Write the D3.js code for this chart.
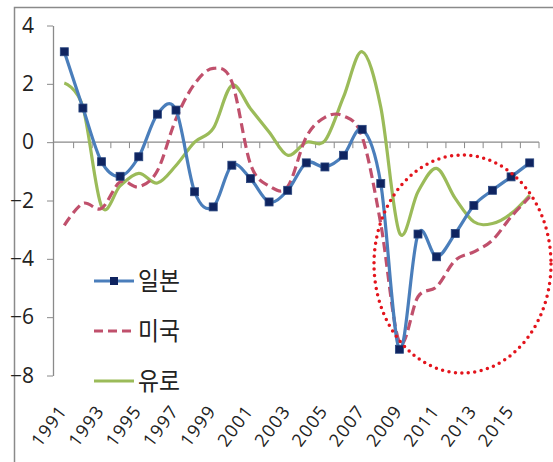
<!DOCTYPE html>
<html>
<head>
<meta charset="utf-8">
<script src="https://cdn.jsdelivr.net/npm/d3@7"></script>
<style>
  body { margin: 0; background: #fff; }
  svg { display: block; }
  .tick-label { font-family: "Open Sans", "Noto Sans", sans-serif; fill: #222; }
  .legend-label { font-family: "Noto Sans CJK KR", sans-serif; fill: #222; }
</style>
</head>
<body>
<svg width="553" height="462"></svg>
<script>
const years = [1991, 1992, 1993, 1994, 1995, 1996, 1997, 1998, 1999, 2000, 2001, 2002, 2003,
  2004, 2005, 2006, 2007, 2008, 2009, 2010, 2011, 2012, 2013, 2014, 2015, 2016];
const japan = [3.1, 1.17, -0.67, -1.17, -0.5, 0.96, 1.1, -1.7, -2.22, -0.79, -1.25, -2.05, -1.65,
  -0.71, -0.85, -0.45, 0.44, -1.42, -7.1, -3.15, -3.93, -3.13, -2.17, -1.65, -1.19, -0.71];
const usa = [-2.85, -2.1, -2.27, -1.36, -1.53, -0.98, 0.8, 2.0, 2.53, 2.07, -0.75, -1.5, -1.53,
  0.18, 0.85, 0.9, 0.18, -2.8, -6.85, -5.3, -4.96, -4.05, -3.76, -3.36, -2.56, -1.88];
const euro = [2.03, 1.2, -2.2, -1.5, -1.07, -1.4, -0.8, 0.0, 0.47, 1.95, 1.15, 0.35, -0.45,
  0.0, 0.05, 1.55, 3.1, 1.2, -3.1, -1.7, -0.9, -1.93, -2.73, -2.79, -2.45, -1.82];
const yTicks = [4, 2, 0, -2, -4, -6, -8];
const yearLabels = [1991, 1993, 1995, 1997, 1999, 2001, 2003, 2005, 2007, 2009, 2011, 2013, 2015];
const seriesNames = ['일본', '미국', '유로'];

const svg = d3.select('svg');

// outer chart frame (only top and left edges show)
svg.append('rect')
  .attr('x', 14.5).attr('y', 7.5)
  .attr('width', 600).attr('height', 500)
  .attr('fill', 'none')
  .attr('stroke', '#8a8a8a')
  .attr('stroke-width', 1.5);

const xScale = d3.scaleBand()
  .domain(years)
  .range([55, 539]);
const xc = (d) => xScale(d) + xScale.bandwidth() / 2;
const yScale = d3.scaleLinear()
  .domain([-8, 4])
  .range([375.5, 25.5]);

// y axis
const yAxis = svg.append('g')
  .attr('transform', 'translate(53,0)')
  .call(d3.axisLeft(yScale).tickValues(yTicks).tickSize(6).tickSizeOuter(0).tickFormat(d3.format('d')));
yAxis.select('.domain').attr('stroke', '#8a8a8a').attr('stroke-width', 1.3);
yAxis.selectAll('.tick line').attr('stroke', '#8a8a8a');
yAxis.selectAll('.tick text')
  .attr('class', 'tick-label')
  .attr('x', -19)
  .attr('font-size', 21);

// x axis on the zero line, ticks at band edges
const xAxis = svg.append('g')
  .attr('transform', `translate(0,${yScale(0)})`);
xAxis.append('line')
  .attr('x1', 53).attr('x2', 539)
  .attr('stroke', '#8a8a8a').attr('stroke-width', 1.3);
xAxis.selectAll('line.tk')
  .data(years.slice(1).concat(['end']))
  .enter()
    .append('line')
    .attr('class', 'tk')
    .attr('x1', (d) => d === 'end' ? 539 : xScale(d))
    .attr('x2', (d) => d === 'end' ? 539 : xScale(d))
    .attr('y1', 0).attr('y2', 6)
    .attr('stroke', '#8a8a8a');

// year labels along the bottom
svg.selectAll('text.year')
  .data(yearLabels)
  .enter()
    .append('text')
    .attr('class', 'year tick-label')
    .attr('font-size', 18)
    .attr('textLength', 45)
    .attr('lengthAdjust', 'spacing')
    .attr('text-anchor', 'end')
    .attr('transform', (d) => `translate(${xc(d) + 3},${412}) rotate(-53)`)
    .text((d) => d);

const line = d3.line()
  .x((d, i) => xc(years[i]))
  .y((d) => yScale(d))
  .curve(d3.curveCardinal.tension(0));

svg.append('path')
  .datum(euro)
  .attr('d', line)
  .attr('fill', 'none')
  .attr('stroke', '#9bbb59')
  .attr('stroke-width', 3.2);

svg.append('path')
  .datum(usa)
  .attr('d', line)
  .attr('fill', 'none')
  .attr('stroke', '#c0506c')
  .attr('stroke-width', 3.2)
  .attr('stroke-dasharray', '10,5');

svg.append('path')
  .datum(japan)
  .attr('d', line)
  .attr('fill', 'none')
  .attr('stroke', '#4a7ebb')
  .attr('stroke-width', 3.2);

svg.selectAll('rect.marker')
  .data(japan)
  .enter()
    .append('rect')
    .attr('class', 'marker')
    .attr('x', (d, i) => xc(years[i]) - 4)
    .attr('y', (d) => yScale(d) - 4)
    .attr('width', 8)
    .attr('height', 8)
    .attr('fill', '#0f2460')
    .attr('stroke', '#28457e')
    .attr('stroke-width', 0.8);

// red dotted highlight ellipse
svg.append('ellipse')
  .attr('cx', 462.5).attr('cy', 264)
  .attr('rx', 88.5).attr('ry', 109)
  .attr('fill', 'none')
  .attr('stroke', '#e3141c')
  .attr('stroke-width', 3.5)
  .attr('stroke-linecap', 'round')
  .attr('stroke-dasharray', '0,6.5');

// legend
const legendStyles = [
  { color: '#4a7ebb', dash: null, marker: true },
  { color: '#c0506c', dash: '9,5', marker: false },
  { color: '#9bbb59', dash: null, marker: false }
];
const legend = svg.selectAll('g.legend')
  .data(seriesNames)
  .enter()
    .append('g')
    .attr('class', 'legend')
    .attr('transform', (d, i) => `translate(94,${281 + i * 50})`);
legend.append('line')
  .attr('x1', 0).attr('x2', 40)
  .attr('stroke', (d, i) => legendStyles[i].color)
  .attr('stroke-width', 3)
  .attr('stroke-dasharray', (d, i) => legendStyles[i].dash);
legend.filter((d, i) => legendStyles[i].marker)
  .append('rect')
  .attr('x', 16).attr('y', -4)
  .attr('width', 8).attr('height', 8)
  .attr('fill', '#0f2460');
legend.append('text')
  .attr('class', 'legend-label')
  .attr('x', 44)
  .attr('y', 9)
  .attr('font-size', 25)
  .attr('textLength', 42)
  .attr('lengthAdjust', 'spacingAndGlyphs')
  .text((d) => d);
</script>
</body>
</html>
